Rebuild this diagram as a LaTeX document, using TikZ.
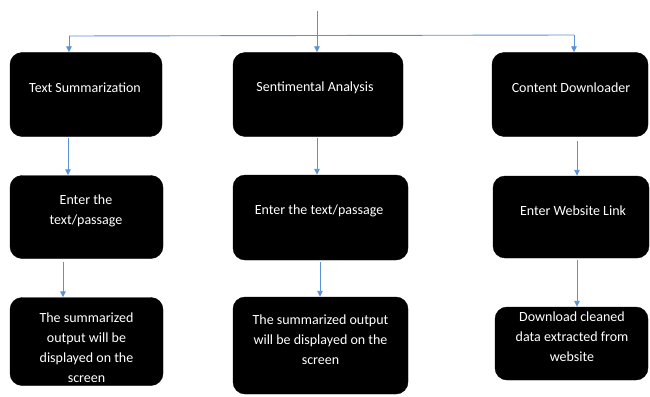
\documentclass[tikz,border=0pt]{standalone}
\usepackage{fontspec}
\setmainfont{Carlito}
\usetikzlibrary{arrows.meta}
\tikzset{
  blockbox/.style={fill=black, draw=black, rounded corners=12pt, inner sep=0pt},
  boxtext/.style={text=white, align=center, inner sep=0pt,
    font=\fontsize{14}{20}\selectfont},
  flow/.style={draw={rgb,255:red,91;green,145;blue,213}, line width=0.9pt,
    -{Triangle[length=6pt,width=5.5pt]}},
  plain/.style={draw={rgb,255:red,91;green,145;blue,213}, line width=0.9pt}
}
\begin{document}
\begin{tikzpicture}[x=1pt,y=-1pt]
\useasboundingbox (0,0) rectangle (650,396);

% first row: the three tools
\node[blockbox, minimum width=152pt, minimum height=84pt] (ts) at (86,94.5) {};
\node[blockbox, minimum width=170pt, minimum height=84pt] (sa) at (318,94.5) {};
\node[blockbox, minimum width=156pt, minimum height=84pt] (cd) at (570,94.5) {};
\node[boxtext] (tsT) at (85,88) {Text Summarization};
\node[boxtext] (saT) at (315,88) {Sentimental Analysis};
\node[boxtext] (cdT) at (571,88) {Content Downloader};

% second row: inputs
\node[blockbox, minimum width=153pt, minimum height=83pt] (tsin) at (86.5,217) {};
\node[blockbox, minimum width=175pt, minimum height=85pt] (sain) at (320.5,217.5) {};
\node[blockbox, minimum width=156pt, minimum height=82pt] (cdin) at (571,217) {};
\node[boxtext] (tsinT) at (86,211) {Enter the\\text/passage};
\node[boxtext] (sainT) at (319,211) {Enter the text/passage};
\node[boxtext] (cdinT) at (573,211) {Enter Website Link};

% third row: outputs
\node[blockbox, minimum width=153pt, minimum height=88pt] (tsout) at (86.5,341.5) {};
\node[blockbox, minimum width=175pt, minimum height=97pt] (saout) at (320.5,345.5) {};
\node[blockbox, minimum width=153pt, minimum height=73pt] (cdout) at (571.5,343.5) {};
\node[boxtext] (tsoutT) at (86.5,348) {The summarized\\output will be\\displayed on the\\screen};
\node[boxtext] (saoutT) at (320.5,340) {The summarized output\\will be displayed on the\\screen};
\node[boxtext] (cdoutT) at (572,337) {Download cleaned\\data extracted from\\website};

% entry and split
\coordinate (entry) at (317,11);
\coordinate (splitL) at (69,36);
\coordinate (splitR) at (574,35);
\draw[flow] (entry) -- (entry |- sa.north);
\draw[plain] (splitL) -- (splitR);
\draw[flow] (splitL) -- (splitL |- ts.north);
\draw[flow] (splitR) -- (splitR |- cd.north);

% column links
\coordinate (a1) at (68,138);
\draw[flow] (a1) -- (a1 |- tsin.north);
\coordinate (a2) at (63,262);
\draw[flow] (a2) -- (a2 |- tsout.north);
\coordinate (b1) at (317,138);
\draw[flow] (b1) -- (b1 |- sain.north);
\coordinate (b2) at (320,262);
\draw[flow] (b2) -- (b2 |- saout.north);
\coordinate (c1) at (577,141);
\draw[flow] (c1) -- (c1 |- cdin.north);
\coordinate (c2) at (577,260);
\draw[flow] (c2) -- (c2 |- cdout.north);
\end{tikzpicture}
\end{document}
